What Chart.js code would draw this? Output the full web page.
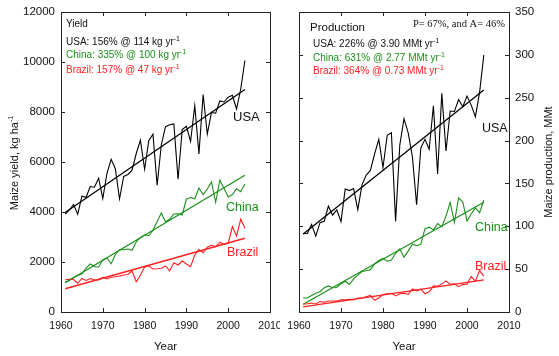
<!DOCTYPE html>
<html>
<head>
<meta charset="utf-8">
<script src="https://cdn.jsdelivr.net/npm/chart.js@4.4.1/dist/chart.umd.min.js"></script>
<style>
  html, body { margin: 0; padding: 0; background: #fff; }
  #wrap { position: relative; width: 559px; height: 356px; }
  canvas { position: absolute; top: 0; }
  #yieldChart { left: 0; }
  #prodChart { left: 280px; }
</style>
</head>
<body>
<div id="wrap">
  <canvas id="yieldChart" width="280" height="356"></canvas>
  <canvas id="prodChart" width="279" height="356"></canvas>
</div>
<script>
// Harvest years
const years = [1961, 1962, 1963, 1964, 1965, 1966, 1967, 1968, 1969, 1970,
               1971, 1972, 1973, 1974, 1975, 1976, 1977, 1978, 1979, 1980,
               1981, 1982, 1983, 1984, 1985, 1986, 1987, 1988, 1989, 1990,
               1991, 1992, 1993, 1994, 1995, 1996, 1997, 1998, 1999, 2000,
               2001, 2002, 2003, 2004];

// Maize yield, kg/ha
const usaYield = [3920, 4080, 4300, 3910, 4630, 4590, 5020, 4990, 5350, 4540,
                  5550, 6110, 5730, 4530, 5420, 5500, 5670, 6340, 6870, 5710,
                  6850, 7110, 5070, 6690, 7410, 7490, 7520, 5310, 7300, 7430,
                  6820, 8250, 6320, 8700, 7120, 7980, 7950, 8440, 8400, 8590,
                  8670, 8120, 8920, 10060];
const chinaYield = [1190, 1270, 1380, 1460, 1530, 1760, 1920, 1820, 1790, 2090,
                    2150, 1930, 2300, 2490, 2490, 2520, 2470, 2800, 2980, 3080,
                    3050, 3270, 3620, 3960, 3610, 3710, 3920, 3930, 3880, 4520,
                    4580, 4530, 4960, 4690, 4920, 5200, 4390, 5270, 4950, 4600,
                    4700, 4930, 4810, 5120];
const brazilYield = [1290, 1310, 1300, 1150, 1340, 1260, 1340, 1290, 1280, 1390,
                     1320, 1390, 1410, 1440, 1480, 1500, 1640, 1210, 1470, 1800,
                     1840, 1720, 1730, 1750, 1840, 1650, 1970, 1880, 2040, 1920,
                     1810, 2280, 2500, 2370, 2590, 2680, 2610, 2790, 2710, 2750,
                     3410, 3040, 3710, 3350];

// Maize production, MMt
const usaProd = [91.4, 91.6, 102.1, 88.5, 104.2, 105.9, 123.5, 113.0, 119.1, 105.5,
                 143.4, 141.7, 144.0, 119.4, 148.4, 159.7, 165.2, 184.6, 201.4, 168.6,
                 206.2, 209.2, 106.0, 194.9, 225.5, 208.9, 181.1, 125.2, 191.3, 201.5,
                 189.9, 240.7, 160.9, 255.3, 187.9, 234.5, 233.9, 247.9, 239.5, 251.9,
                 241.4, 227.8, 256.3, 299.9];
const chinaProd = [16.4, 16.3, 19.3, 21.9, 23.7, 28.3, 30.4, 28.3, 28.6, 33.0,
                   35.9, 32.1, 38.6, 43.1, 47.2, 48.2, 49.4, 56.0, 60.0, 62.6,
                   59.2, 60.6, 68.5, 73.5, 64.0, 71.0, 79.2, 77.4, 78.9, 97.2,
                   99.0, 95.6, 103.1, 99.3, 112.0, 127.9, 104.6, 133.2, 128.3, 106.2,
                   114.3, 121.5, 116.0, 130.4];
const brazilProd = [9.0, 9.6, 10.4, 9.4, 12.1, 11.4, 12.8, 12.8, 12.7, 14.2,
                    14.1, 14.9, 14.1, 16.3, 16.3, 17.8, 19.3, 13.6, 16.3, 20.4,
                    21.1, 21.8, 18.7, 21.2, 22.0, 20.5, 26.8, 24.7, 26.6, 21.3,
                    23.6, 30.5, 30.1, 32.5, 36.3, 32.2, 32.9, 29.6, 32.2, 32.3,
                    41.5, 35.9, 48.3, 41.8];

// Linear trends, fitted over the first and last year
const trendYears = [1961, 2004];
const usaYieldTrend = [3980, 8900];
const chinaYieldTrend = [1170, 5470];
const brazilYieldTrend = [930, 2950];
const usaProdTrend = [91, 259];
const chinaProdTrend = [9, 128];
const brazilProdTrend = [6, 37.5];

// Axis ticks
const yearTicks = [1960, 1970, 1980, 1990, 2000, 2010];
const yieldTicks = [0, 2000, 4000, 6000, 8000, 10000, 12000];
const prodTicks = [0, 50, 100, 150, 200, 250, 300, 350];

const BLACK = '#000000';
const GREEN = '#1b8f1b';
const RED = '#ff2020';
const SANS = "'Liberation Sans', Arial, Helvetica, sans-serif";
const SERIF = "'Liberation Serif', 'Times New Roman', serif";

function pts(xs, ys) { return xs.map((x, i) => ({ x: x, y: ys[i] })); }

function lineSet(xs, ys, color, width) {
  return {
    data: pts(xs, ys),
    borderColor: color,
    borderWidth: width,
    pointRadius: 0,
    tension: 0,
    fill: false
  };
}

// Text with optional superscript runs: parts = [[text, isSup], ...]
function richText(ctx, x, y, parts, size, color, align, family) {
  const fam = family || SANS;
  const supSize = Math.round(size * 0.68);
  let total = 0;
  const widths = parts.map(([t, sup]) => {
    ctx.font = (sup ? supSize : size) + 'px ' + fam;
    const w = ctx.measureText(t).width;
    total += w;
    return w;
  });
  let cx = x;
  if (align === 'center') cx = x - total / 2;
  else if (align === 'right') cx = x - total;
  ctx.fillStyle = color;
  ctx.textBaseline = 'alphabetic';
  ctx.textAlign = 'left';
  parts.forEach(([t, sup], i) => {
    ctx.font = (sup ? supSize : size) + 'px ' + fam;
    ctx.fillText(t, cx, sup ? y - size * 0.42 : y);
    cx += widths[i];
  });
}

// Frame around the plot area with inward tick marks on all four sides
const framePlugin = {
  id: 'frame',
  afterDatasetsDraw(chart) {
    const { ctx, chartArea: a, scales } = chart;
    ctx.save();
    ctx.strokeStyle = '#222';
    ctx.lineWidth = 1;
    ctx.strokeRect(a.left + 0.5, a.top + 0.5, a.right - a.left, a.bottom - a.top);
    const len = 4;
    ctx.beginPath();
    scales.x.ticks.forEach(t => {
      const px = Math.round(scales.x.getPixelForValue(t.value)) + 0.5;
      ctx.moveTo(px, a.bottom); ctx.lineTo(px, a.bottom - len);
      ctx.moveTo(px, a.top); ctx.lineTo(px, a.top + len);
    });
    scales.y.ticks.forEach(t => {
      const py = Math.round(scales.y.getPixelForValue(t.value)) + 0.5;
      ctx.moveTo(a.left, py); ctx.lineTo(a.left + len, py);
      ctx.moveTo(a.right, py); ctx.lineTo(a.right - len, py);
    });
    ctx.stroke();
    ctx.restore();
  }
};

// Annotation texts for each panel
function labelsPlugin(draw) {
  return { id: 'labels', afterDraw(chart) { const c = chart.ctx; c.save(); draw(c, chart); c.restore(); } };
}

function baseOptions(yMax, yPos, yWidth, padding, yTickList) {
  return {
    responsive: false,
    animation: false,
    devicePixelRatio: 1,
    layout: { padding: padding },
    plugins: { legend: { display: false }, tooltip: { enabled: false } },
    scales: {
      x: {
        type: 'linear',
        min: 1960, max: 2010,
        grid: { display: false, drawTicks: false, tickLength: 0 },
        border: { display: false },
        afterBuildTicks: s => { s.ticks = yearTicks.map(v => ({ value: v })); },
        ticks: {
          color: '#111',
          padding: 8,
          maxRotation: 0,
          font: { family: SANS, size: 10.5 },
          callback: v => String(v)
        },
        afterFit: s => { s.height = 44; s.paddingLeft = 0; s.paddingRight = 0; }
      },
      y: {
        type: 'linear',
        position: yPos,
        min: 0, max: yMax,
        grid: { display: false, drawTicks: false, tickLength: 0 },
        border: { display: false },
        afterBuildTicks: s => { s.ticks = yTickList.map(v => ({ value: v })); },
        ticks: {
          color: '#111',
          padding: 6,
          font: { family: SANS, size: 11.5 },
          callback: v => String(v)
        },
        afterFit: s => { s.width = yWidth; s.paddingTop = 0; s.paddingBottom = 0; }
      }
    }
  };
}

// ---- Yield panel ----
new Chart(document.getElementById('yieldChart'), {
  type: 'line',
  data: {
    datasets: [
      lineSet(years, usaYield, BLACK, 1.1),
      lineSet(years, chinaYield, GREEN, 1.1),
      lineSet(years, brazilYield, RED, 1.1),
      lineSet(trendYears, usaYieldTrend, BLACK, 1.3),
      lineSet(trendYears, chinaYieldTrend, GREEN, 1.3),
      lineSet(trendYears, brazilYieldTrend, RED, 1.3)
    ]
  },
  options: baseOptions(12000, 'left', 61, { top: 12, right: 10, left: 0, bottom: 0 }, yieldTicks),
  plugins: [framePlugin, labelsPlugin((c, chart) => {
    richText(c, 66, 27, [['Yield', false]], 10, '#111');
    richText(c, 66, 45, [['USA: 156% @ 114 kg yr', false], ['-1', true]], 10, '#111');
    richText(c, 66, 58, [['China: 335% @ 100 kg yr', false], ['-1', true]], 10, GREEN);
    richText(c, 66, 73, [['Brazil: 157% @ 47 kg yr', false], ['-1', true]], 10, RED);
    richText(c, 233, 121, [['USA', false]], 13, '#111');
    richText(c, 226, 211, [['China', false]], 12.5, GREEN);
    richText(c, 227, 256, [['Brazil', false]], 12.5, RED);
    richText(c, 165.5, 350, [['Year', false]], 11.5, '#111', 'center');
    c.save();
    c.translate(18, 163);
    c.rotate(-Math.PI / 2);
    richText(c, 0, 0, [['Maize yield, kg ha', false], ['-1', true]], 11, '#111', 'center');
    c.restore();
  })]
});

// ---- Production panel ----
new Chart(document.getElementById('prodChart'), {
  type: 'line',
  data: {
    datasets: [
      lineSet(years, usaProd, BLACK, 1.1),
      lineSet(years, chinaProd, GREEN, 1.1),
      lineSet(years, brazilProd, RED, 1.1),
      lineSet(trendYears, usaProdTrend, BLACK, 1.3),
      lineSet(trendYears, chinaProdTrend, GREEN, 1.3),
      lineSet(trendYears, brazilProdTrend, RED, 1.3)
    ]
  },
  options: baseOptions(350, 'right', 50, { top: 12, right: 0, left: 19, bottom: 0 }, prodTicks),
  plugins: [framePlugin, labelsPlugin((c, chart) => {
    richText(c, 30, 31, [['Production', false]], 11.5, '#111');
    richText(c, 225, 27, [['P= 67%, and A= 46%', false]], 10.5, '#111', 'right', SERIF);
    richText(c, 33, 47, [['USA: 226% @ 3.90 MMt yr', false], ['-1', true]], 10, '#111');
    richText(c, 33, 61, [['China: 631% @ 2.77 MMt yr', false], ['-1', true]], 10, GREEN);
    richText(c, 33, 74, [['Brazil: 364% @ 0.73 MMt yr', false], ['-1', true]], 10, RED);
    richText(c, 202, 132, [['USA', false]], 12.5, '#111');
    richText(c, 195, 231, [['China', false]], 12.5, GREEN);
    richText(c, 195, 270, [['Brazil', false]], 12.5, RED);
    richText(c, 124, 350, [['Year', false]], 11.5, '#111', 'center');
    c.save();
    c.translate(272, 162);
    c.rotate(-Math.PI / 2);
    richText(c, 0, 0, [['Maize production, MMt', false]], 11, '#111', 'center');
    c.restore();
  })]
});
</script>
</body>
</html>
